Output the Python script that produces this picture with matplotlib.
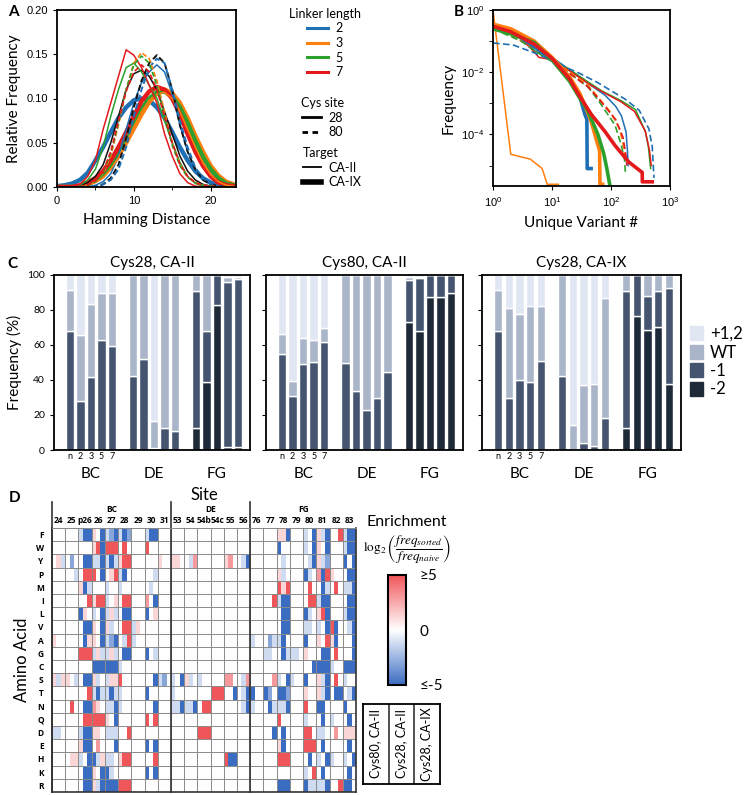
import numpy as np
import matplotlib.pyplot as plt
from matplotlib.colors import LinearSegmentedColormap
from matplotlib.lines import Line2D
from matplotlib.patches import Patch

plt.rcParams['font.family'] = ['Lato', 'DejaVu Sans']
plt.rcParams['axes.linewidth'] = 1.3

W, H = 744, 795


def box(l, t, r, b):
    # pixel box -> figure fraction
    return [l / W, 1 - b / H, (r - l) / W, (b - t) / H]


blue, orange, green, red, black = '#1f6fb5', '#ff7f0e', '#2ca02c', '#e3191c', '#111111'

# ---------------- panel A: hamming distance distributions
hamming = list(range(24))
a_red_28 = [0, 0, 0, .003, .012, .03, .065, .095, .125, .155, .149, .135, .115, .095, .06, .035, .015, .005, .001, 0, 0, 0, 0, 0]
a_green_28 = [0, 0, 0, .002, .008, .02, .045, .08, .11, .135, .14, .13, .115, .1, .075, .05, .028, .012, .004, .001, 0, 0, 0, 0]
a_black_28 = [0, 0, 0, .002, .005, .012, .025, .05, .08, .11, .128, .132, .125, .11, .085, .06, .035, .018, .008, .003, .001, 0, 0, 0]
a_orange_28 = [0, 0, 0, 0, .002, .005, .01, .02, .033, .05, .068, .085, .098, .105, .107, .1, .085, .065, .045, .027, .014, .006, .002, .001]
a_blue_28 = [0, 0, 0, 0, 0, .002, .006, .015, .035, .065, .095, .118, .13, .138, .13, .105, .07, .04, .02, .008, .003, .001, 0, 0]
a_orange_80 = [0, 0, 0, 0, .002, .006, .015, .035, .07, .11, .14, .152, .145, .12, .085, .05, .025, .012, .005, .002, .001, 0, 0, 0]
a_green_80 = [0, 0, 0, 0, .002, .006, .016, .038, .072, .11, .138, .148, .14, .115, .08, .047, .024, .011, .005, .002, .001, 0, 0, 0]
a_red_80 = [0, 0, 0, 0, .002, .007, .018, .04, .075, .108, .13, .138, .13, .11, .08, .05, .026, .012, .005, .002, .001, 0, 0, 0]
a_blue_80 = [0, 0, 0, 0, 0, .001, .003, .008, .02, .045, .08, .11, .135, .145, .14, .11, .075, .045, .022, .01, .004, .001, 0, 0]
a_black_80 = [0, 0, 0, 0, 0, 0, .003, .01, .025, .055, .09, .12, .14, .149, .14, .11, .07, .04, .02, .008, .003, .001, 0, 0]
a_blue_IX = [.001, .002, .004, .008, .016, .03, .045, .062, .078, .09, .098, .1, .098, .09, .078, .062, .045, .03, .018, .01, .005, .002, .001, 0]
a_red_IX = [0, 0, 0, .002, .005, .01, .018, .03, .045, .062, .08, .097, .108, .113, .11, .1, .082, .06, .04, .024, .012, .005, .002, .001]
a_orange_IX = [0, 0, 0, .001, .003, .007, .013, .022, .035, .05, .066, .082, .096, .106, .11, .106, .095, .078, .058, .04, .024, .013, .006, .003]
a_green_IX = [0, 0, 0, .001, .003, .008, .015, .026, .04, .056, .073, .088, .1, .107, .108, .102, .09, .072, .052, .034, .02, .01, .004, .002]

# ---------------- panel B: rank / frequency curves
b_blue_II_r = [1, 2, 3, 5, 8, 10, 20, 40, 80, 120, 150, 180, 190, 195]
b_blue_II_f = [0.3, 0.2, 0.13, 0.07, 0.04, 0.03, 0.012, 4.5e-3, 1.8e-3, 8e-4, 4e-4, 1.2e-4, 3e-5, 1e-5]
b_orange_II_r = [1, 2, 4.3, 6.8, 8.3, 12.8]
b_orange_II_f = [1.0, 2.3e-5, 1.6e-5, 8e-6, 2.5e-6, 2.5e-6]
b_green_II_r = [1, 2, 3, 5, 8, 10, 20, 40, 70, 150, 260, 385, 430, 470]
b_green_II_f = [0.35, 0.22, 0.15, 0.05, 0.03, 0.025, 0.012, 5e-3, 2.5e-3, 1.2e-3, 6.3e-4, 1.2e-4, 4e-5, 8e-6]
b_red_II_r = [1, 2, 3, 5, 6, 10, 20, 40, 70, 150, 250, 380, 450, 480]
b_red_II_f = [0.3, 0.2, 0.12, 0.045, 0.03, 0.025, 0.011, 4.5e-3, 2.4e-3, 1.1e-3, 5.5e-4, 1.3e-4, 3e-5, 1e-5]
b_blue_80_r = [1, 2.2, 6, 14, 30, 60, 175, 300, 440, 500, 535]
b_blue_80_f = [0.087, 0.075, 0.037, 0.017, 9e-3, 4.6e-3, 1.35e-3, 6e-4, 1.5e-4, 4e-5, 4e-6]
b_orange_80_r = [1, 3, 5, 10, 20, 40, 60, 100, 140, 160, 170]
b_orange_80_f = [0.3, 0.1, 0.06, 0.025, 0.01, 4e-3, 1.6e-3, 5e-4, 1.5e-4, 5e-5, 2e-5]
b_green_80_r = [1, 3, 5, 10, 20, 40, 60, 117, 150, 170, 175]
b_green_80_f = [0.25, 0.1, 0.05, 0.022, 0.009, 3.5e-3, 1.3e-3, 2e-4, 4.4e-5, 1.5e-5, 6e-6]
b_red_80_r = [1, 3, 5, 10, 20, 40, 60, 120, 160, 180, 185]
b_red_80_f = [0.28, 0.12, 0.06, 0.025, 0.009, 3.5e-3, 1.5e-3, 3e-4, 8e-5, 2e-5, 1e-5]
b_blue_IX_r = [1, 2, 4, 10, 20, 30, 36, 39, 39.5, 46]
b_blue_IX_f = [0.3, 0.2, 0.09, 0.025, 6e-3, 1.5e-3, 4.5e-4, 3e-4, 8e-6, 8e-6]
b_orange_IX_r = [1, 2, 5, 10, 20, 30, 45, 55, 64, 65, 72]
b_orange_IX_f = [0.35, 0.25, 0.1, 0.03, 7e-3, 2e-3, 3e-4, 8e-5, 3e-5, 2.5e-6, 2.5e-6]
b_green_IX_r = [1, 2, 5, 10, 20, 30, 40, 60, 75, 85, 95]
b_green_IX_f = [0.25, 0.17, 0.09, 0.025, 5e-3, 1.4e-3, 6e-4, 1e-4, 2.5e-5, 8e-6, 2.5e-6]
b_red_IX_r = [1, 2, 5, 10, 20, 27, 46, 80, 117, 200, 338, 340, 500]
b_red_IX_f = [0.3, 0.2, 0.08, 0.028, 6e-3, 2.2e-3, 4.5e-4, 1.2e-4, 4.4e-5, 1.3e-5, 6e-6, 3e-6, 3e-6]

# ---------------- panel C: loop length composition (%)
c_titles = ['Cys28, CA-II', 'Cys80, CA-II', 'Cys28, CA-IX']
c_loops = ['BC', 'DE', 'FG']
c_bar_labels = ['n', '2', '3', '5', '7']
c28_II_m2 = [0, 0, 0, 0, 0, 0, 0, 0, 0, 0, 12.5, 39, 83, 1.5, 1.5]
c28_II_m1 = [68, 28, 41.6, 62.8, 59.4, 42, 52, 1, 12.5, 11, 78.5, 29, 17, 94.5, 96]
c28_II_wt = [23.6, 37.5, 41.7, 26.7, 30.1, 58, 48, 15.5, 87.5, 89, 9, 32, 0, 3, 1.5]
c28_II_p12 = [8.4, 34.5, 16.7, 10.5, 10.5, 0, 0, 83.5, 0, 0, 0, 0, 0, 1, 1]
c80_II_m2 = [0, 0, 0, 0, 0, 0, 0, 0, 0, 0, 73.4, 68, 87.7, 87.2, 89.6]
c80_II_m1 = [54.6, 30.6, 48.9, 50.2, 61.7, 49.8, 33.9, 22.6, 29.7, 44.4, 23.9, 30, 12.3, 12.8, 10.4]
c80_II_wt = [11.4, 8.7, 15.3, 12.6, 7.8, 50.2, 66.1, 77.4, 70.3, 55.6, 1.5, 1, 0, 0, 0]
c80_II_p12 = [34, 60.7, 35.8, 37.2, 30.5, 0, 0, 0, 0, 0, 1.2, 1, 0, 0, 0]
c28_IX_m2 = [0, 0, 0, 0, 0, 0, 0, 0, 0, 0, 12.5, 76.8, 68.8, 70.3, 37.7]
c28_IX_m1 = [68, 29.7, 40.2, 38.7, 50.8, 42, 0, 3.8, 2.5, 18.2, 78.5, 23.2, 19.4, 20.5, 55]
c28_IX_wt = [23.6, 51.3, 37.4, 43.3, 31.6, 58, 14.4, 33.5, 35.2, 68.7, 9, 0, 11.8, 9.2, 7.3]
c28_IX_p12 = [8.4, 19, 22.4, 18, 17.6, 0, 85.6, 62.7, 62.3, 13.1, 0, 0, 0, 0, 0]

# ---------------- panel D: enrichment heatmap (3 sub-columns per site)
aa_labels = list('FWYPMILVAGCSTNQDEHKR')
sites_bc = ['24', '25', 'p26', '26', '27', '28', '29', '30', '31']
sites_de = ['53', '54', '54b', '54c', '55', '56']
sites_fg = ['76', '77', '78', '79', '80', '81', '82', '83']
level = {'B': -5, 'b': -3, 'l': -1.2, '.': 0, 'p': 1.2, 'r': 3, 'R': 5}
heat_rows = [
    '... ... lBB p.B lbB lBb ... lBB ... | ... ... ... ... ... ... | ... ... ppB ... l.B plB ..R lBB',
    '... ... ... pRB RRR .R. ... R.. ... | ... ... ... ... ... ... | ... ... B.. ... l.B p.B ... lBB',
    '.pl .b. .BB llB lBl pRR ... ... p.. | pp. .lr ... ... pr. .lB | ... ... .l. ... .lB plb ... B.B',
    '... ..l .RR R.B .pR lB. ... ..l ... | ... ... ... ... ... ... | ... ... pl. ... Bl. rBR p.. .BB',
    '... ... pBl ... l.. l.. ... .l. ... | ... ... ... ... ... ... | ... ... RpR ... .R. .Bl .R. llB',
    '... ... ..R pRR l.p .RR ... r.B ... | ... ... ... ... ... ... | ... ..R lBB ... .RR lBB ... .BB',
    '... ... Bp. l.B lpl .BB ... B.p ... | ... ... ... ... ... ... | ... ... .BB ... Bl. pRB ... lBB',
    '... ... .BB p.B pl. .RR lp. ... ... | ... ... ... ... ... ... | ... ... .BB ... ll. l.B RB. .lB',
    'p.. ... .Bp p.B lbB .lR l.. ... ... | ... ... ... ... ... ... | l.. .bl lB. ... B.. p.R pB. ..B',
    '... ... RRR lpl lpl .BB ... B.l ... | ... ... ... ... ... ... | ... ll. .Bl ll. p.. .BB .R. ..B',
    '... ... ... BBB BBB l.. ... ... ... | ... ... ... ... ... ... | ... ... ... ... ..B BBB l.. BBB',
    'plp p.l .BB pl. lpp R.. ... ..B lb. | l.B pl. l.. ... rr. .lr | ... ..r l.B l.. B.. plB .R. l..',
    '... ... ..R lBl lBl l.. ... B.. ... | l.. ... ... RRR ..B .lB | B.. Bb. BBb ... p.. plB .BB .lB',
    '... .R. .BB rp. llB l.. ... ..B ... | llB llB .RR ... ... .lB | l.. .Bl llB ... R.. BB. ... B..',
    '... ... .RR RRR p.B ... ... R.R ... | ... ... ... ... ... ... | ... ... R.. ... l.. .B. l.. .B.',
    'll. ... lBB pp. lll ..R ... ... ... | ... ... RRR ... ... ... | ... ..B .B. ... RR. ll. .r. ppp',
    '... ... pBB .r. ..B ... ... B.B ... | ... ... ... ... ... ... | ... ... pB. ... RRR .B. ... .B.',
    '... .pp l.B Blp ll. pRR ... ..R ... | ... ... ... ... RBB ... | ... ... RRR ... .B. l.B l.. l.B',
    '... ... .BB p.B Bl. ... ... B.B ... | ... ... ... ... ... ... | ... ... ... ... l.R .B. ... .B.',
    '... ... .BB plB BBB RRR ... ... ... | ... ... ... ... ... ... | ... ... BBB ... Bll llB ..R BB.',
]
sub_labels = ['Cys80, CA-II', 'Cys28, CA-II', 'Cys28, CA-IX']

fig = plt.figure(figsize=(7.44, 7.95), dpi=100)

# ======================= A
axA = fig.add_axes(box(57, 10, 236, 187))
thin, thick = 1.1, 3.2
dash = (0, (3, 1.5))
a_curves = [
    (a_blue_IX, blue, '-', thick), (a_orange_IX, orange, '-', thick),
    (a_green_IX, green, '-', thick), (a_red_IX, red, '-', thick),
    (a_black_28, black, '-', thin), (a_blue_28, blue, '-', thin),
    (a_orange_28, orange, '-', thin), (a_green_28, green, '-', thin),
    (a_red_28, red, '-', thin),
    (a_black_80, black, dash, 1.4), (a_blue_80, blue, dash, 1.4),
    (a_orange_80, orange, dash, 1.2), (a_green_80, green, dash, 1.2),
    (a_red_80, red, dash, 1.2),
]
for vals, col, ls, lw in a_curves:
    axA.plot(hamming, vals, color=col, ls=ls, lw=lw)
axA.set_xlim(0, 23.3)
axA.set_ylim(0, 0.2)
axA.set_xticks([0, 10, 20])
axA.set_xticks([5, 15], minor=True)
axA.set_yticks([0, 0.05, 0.10, 0.15, 0.20])
axA.set_yticklabels(['0.00', '0.05', '0.10', '0.15', '0.20'])
axA.tick_params(labelsize=8, labelfontfamily='Liberation Sans', length=3)
axA.set_xlabel('Hamming Distance', fontsize=11, labelpad=5)
axA.set_ylabel('Relative Frequency', fontsize=11)

# legends between A and B
leg_kw = dict(frameon=False, fontsize=9, title_fontsize=9, loc='upper left',
              borderpad=0, borderaxespad=0, labelspacing=0.2, handletextpad=0.6)
h1 = [Line2D([], [], color=c, lw=2.2) for c in (blue, orange, green, red)]
fig.legend(h1, ['2', '3', '5', '7'], title='Linker length', alignment='center',
           bbox_to_anchor=(289 / W, 1 - 8 / H), handlelength=1.7, **leg_kw)
h2 = [Line2D([], [], color='k', lw=2), Line2D([], [], color='k', lw=2, ls=(0, (2, 1.6)))]
fig.legend(h2, ['28', '80'], title='Cys site', alignment='center',
           bbox_to_anchor=(301 / W, 1 - 97 / H), handlelength=1.5, **leg_kw)
h3 = [Line2D([], [], color='k', lw=1.3), Line2D([], [], color='k', lw=4)]
fig.legend(h3, ['CA-II', 'CA-IX'], title='Target', alignment='left',
           bbox_to_anchor=(303 / W, 1 - 147 / H), handlelength=1.4, **leg_kw)

# ======================= B
axB = fig.add_axes(box(493, 10, 670, 186))
b_curves = [
    (b_blue_II_r, b_blue_II_f, blue, '-', 1.1), (b_orange_II_r, b_orange_II_f, orange, '-', 1.1),
    (b_green_II_r, b_green_II_f, green, '-', 1.1), (b_red_II_r, b_red_II_f, red, '-', 1.1),
    (b_blue_80_r, b_blue_80_f, blue, (0, (4, 2)), 1.2), (b_orange_80_r, b_orange_80_f, orange, (0, (4, 2)), 1.2),
    (b_green_80_r, b_green_80_f, green, (0, (4, 2)), 1.2), (b_red_80_r, b_red_80_f, red, (0, (4, 2)), 1.2),
    (b_blue_IX_r, b_blue_IX_f, blue, '-', 2.6), (b_orange_IX_r, b_orange_IX_f, orange, '-', 2.6),
    (b_green_IX_r, b_green_IX_f, green, '-', 2.6), (b_red_IX_r, b_red_IX_f, red, '-', 2.6),
]
for r, f, col, ls, lw in b_curves:
    axB.plot(r, f, color=col, ls=ls, lw=lw)
axB.set_xscale('log')
axB.set_yscale('log')
axB.set_xlim(1, 1000)
axB.set_ylim(2.2e-6, 1)
axB.set_xticks([1, 10, 100, 1000])
axB.set_xticks([], minor=True)
axB.set_yticks([1, 1e-2, 1e-4])
axB.set_yticks([1e-1, 1e-3, 1e-5], minor=True)
axB.set_yticklabels([], minor=True)
axB.tick_params(labelsize=8, labelfontfamily='Liberation Sans', length=3)
axB.tick_params(which='minor', length=3)
axB.set_xlabel('Unique Variant #', fontsize=11, labelpad=5)
axB.set_ylabel('Frequency', fontsize=11)

# ======================= C
c_data = [
    (c28_II_m2, c28_II_m1, c28_II_wt, c28_II_p12),
    (c80_II_m2, c80_II_m1, c80_II_wt, c80_II_p12),
    (c28_IX_m2, c28_IX_m1, c28_IX_wt, c28_IX_p12),
]
c_cols = ['#1f2a38', '#45556f', '#aab5c9', '#e0e6f2']
c_names = ['-2', '-1', 'WT', '+1,2']
c_boxes = [box(54, 275, 250, 450), box(266, 275, 463, 450), box(482, 275, 681, 450)]
xpos = np.concatenate([np.arange(5) + 6 * g for g in range(3)])
for k in range(3):
    ax = fig.add_axes(c_boxes[k])
    bottom = np.zeros(len(xpos))
    for vals, col in zip(c_data[k], c_cols):
        v = np.array(vals, dtype=float)
        ax.bar(xpos, v, bottom=bottom, width=0.8, color=col, edgecolor='white', lw=1)
        bottom += v
    ax.set_xlim(-1.52, 17.14)
    ax.set_ylim(0, 100)
    ax.set_yticks(range(0, 101, 20))
    ax.set_xticks(xpos[:5])
    ax.set_xticklabels(c_bar_labels, fontsize=6.5)
    ax.tick_params(axis='x', length=0, pad=1.5)
    ax.tick_params(axis='y', length=3, labelsize=7.5)
    if k > 0:
        ax.set_yticklabels([])
    else:
        ax.set_ylabel('Frequency (%)', fontsize=11)
    ax.set_title(c_titles[k], fontsize=11, pad=6)
    for g, name in enumerate(c_loops):
        ax.text(xpos[5 * g:5 * g + 5].mean(), -0.1, name, transform=ax.get_xaxis_transform(),
                ha='center', va='top', fontsize=11)

fig.legend([Patch(color=c) for c in c_cols[::-1]], c_names[::-1], loc='upper left',
           bbox_to_anchor=(690 / W, 1 - 326 / H), frameon=False, fontsize=12,
           handlelength=0.8, handleheight=0.9, labelspacing=0.15, handletextpad=0.4,
           borderpad=0, borderaxespad=0)

# ======================= D
sites = sites_bc + sites_de + sites_fg
nsite, nrow = len(sites), len(aa_labels)
vals = np.array([[level[c] for c in row.replace(' ', '').replace('|', '')] for row in heat_rows])
cmap = LinearSegmentedColormap.from_list('enr', ['#3a6cc2', '#ffffff', '#f0555a'])
narrow = ['Liberation Sans Narrow', 'Open Sans', 'DejaVu Sans']

axD = fig.add_axes(box(52, 528, 356, 792))
im = axD.imshow(vals, cmap=cmap, vmin=-5, vmax=5, aspect='auto',
                extent=(0, nsite, nrow, 0), interpolation='nearest')
axD.set_xticks(np.arange(nsite + 1), minor=True)
axD.set_yticks(np.arange(nrow + 1), minor=True)
axD.grid(which='minor', color='#8a8a8a', lw=0.7)
axD.xaxis.tick_top()
axD.set_xticks(np.arange(nsite) + 0.5)
axD.set_xticklabels(sites, fontsize=6, fontweight='bold', family=narrow)
axD.set_yticks(np.arange(nrow) + 0.5)
axD.set_yticklabels(aa_labels, fontsize=6, fontweight='bold', family=['Open Sans', 'DejaVu Sans'])
axD.tick_params(which='both', length=0, pad=2)
axD.tick_params(axis='y', pad=6)
for s in ('left', 'bottom', 'right'):
    axD.spines[s].set_color('#333333')
    axD.spines[s].set_linewidth(1.2)
axD.spines['top'].set_color('#8a8a8a')
axD.spines['top'].set_linewidth(0.7)
head = 1 + 26 / 264
bounds = np.cumsum([0, len(sites_bc), len(sites_de), len(sites_fg)])
for b in bounds[:-1]:
    axD.axvline(b, ymin=0, ymax=head, color='#333333', lw=1.2, clip_on=False)
for g, name in enumerate(['BC', 'DE', 'FG']):
    axD.text((bounds[g] + bounds[g + 1]) / 2, 1 + 19 / 264, name,
             transform=axD.get_xaxis_transform(), ha='center', va='center',
             fontsize=6, fontweight='bold', family=narrow)
axD.text(0.5, 1 + 33 / 264, 'Site', transform=axD.transAxes, ha='center', va='center', fontsize=12)
axD.set_ylabel('Amino Acid', fontsize=12, labelpad=4)

cax = fig.add_axes(box(388, 575, 406, 685))
cb = fig.colorbar(im, cax=cax, ticks=[-5, 0, 5])
cb.ax.set_yticklabels(['≤-5', '0', '≥5'])
cb.ax.tick_params(length=0, labelsize=11, pad=10)
cb.outline.set_linewidth(1.5)

fig.text(407 / W, 1 - 522 / H, 'Enrichment', ha='center', va='center', fontsize=11.5)
fig.text(407 / W, 1 - 550 / H,
         r'$\log_2\left(\dfrac{\mathit{freq}_{sorted}}{\mathit{freq}_{naive}}\right)$',
         ha='center', va='center', fontsize=9.5, math_fontfamily='stix')

axL = fig.add_axes(box(363, 704, 440, 784))
axL.set_xlim(0, 3)
axL.set_ylim(0, 1)
axL.set_xticks([])
axL.set_yticks([])
for i in range(1, 3):
    axL.axvline(i, color='#222222', lw=1.1)
for i, lab in enumerate(sub_labels):
    axL.text(i + 0.5, 0.5, lab, rotation=90, ha='center', va='center', fontsize=9)

# panel letters
for letter, (px, py) in {'A': (8, 12), 'B': (454, 12), 'C': (7, 264), 'D': (9, 498)}.items():
    fig.text(px / W, 1 - py / H, letter, fontsize=11, fontweight='bold', ha='left', va='center')

fig.savefig('out.png', dpi=100)
